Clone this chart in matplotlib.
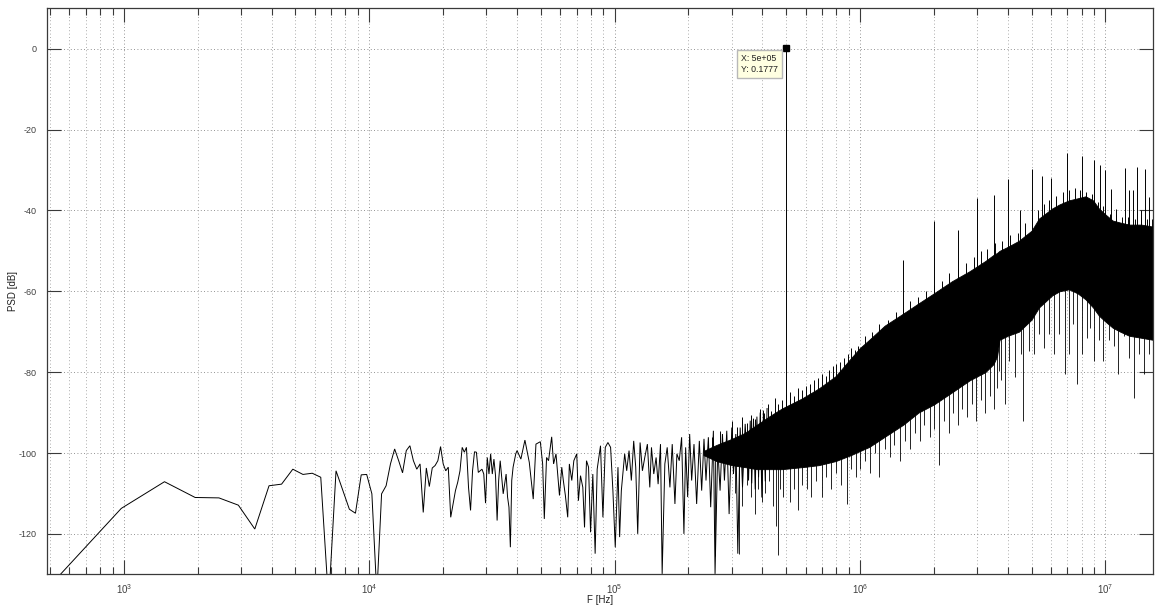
import numpy as np
import matplotlib
matplotlib.use("Agg")
import matplotlib.pyplot as plt
from matplotlib.ticker import LogLocator, FixedLocator, NullFormatter, FuncFormatter

# ---------------- data ----------------
df = 488.28125          # bin spacing [Hz]
f_nyq = 15.625e6        # upper frequency limit [Hz]

# low-frequency bins, k = 1 .. 82 (f = k * df)
psd_low = [
    -133.5, -113.7, -107.1, -111.0, -111.1, -112.9, -118.8, -108.1, -107.7, -104.0,
    -105.3, -105.0, -106.0, -137.0, -104.4, -109.3, -113.9, -114.9, -105.4, -105.3,
    -110.1, -135.0, -110.1, -108.1, -102.7, -99.0, -101.9, -104.9, -99.4, -98.2,
    -101.9, -104.0, -102.7, -114.7, -103.7, -108.3, -103.7, -103.1, -101.9, -98.4,
    -102.7, -104.4, -103.5, -115.9, -112.6, -109.3, -107.2, -104.4, -98.6, -99.8,
    -98.6, -108.5, -114.2, -104.4, -99.7, -99.8, -104.8, -104.4, -104.0, -105.2,
    -112.4, -101.1, -105.2, -100.2, -105.2, -101.5, -105.6, -116.7, -106.8, -101.9,
    -106.0, -110.1, -107.7, -105.2, -110.9, -113.4, -123.3, -106.8, -103.5, -101.9,
    -100.2, -99.4,
]

# mid band trace [kHz, dB]
f_mid_khz = [
    41.5, 43.1, 44.9, 46.6, 47.8, 49.8, 50.9, 51.7, 52.8, 53.8,
    55.4, 56.4, 57.7, 59.6, 60.9, 61.8, 63.0, 64.4, 65.4, 66.9,
    68.2, 70.1, 71.2, 72.6, 74.2, 75.4, 76.8, 78.3, 79.8, 81.5,
    83.3, 84.9, 87.6, 89.6, 91.6, 93.9, 96.3, 98.4, 100.6, 103.2,
    104.8, 106.5, 109.9, 112.0, 114.5, 117.0, 119.6, 121.9, 124.2, 127.0,
    129.8, 132.7, 136.0, 139.1, 141.3, 144.4, 147.6, 150.4, 153.8, 156.2,
    160.2, 163.8, 168.0, 171.7, 176.1, 179.4, 183.4, 187.5, 191.6, 194.7,
    198.4, 202.2, 206.0, 210.6, 215.9, 221.4, 226.3, 231.3, 235.7, 241.0,
    246.3, 252.6, 256.6, 263.2, 269.0, 275.0, 280.2, 286.4, 292.8, 300.2,
    305.0, 311.8, 317.7, 324.8, 332.0, 340.4, 351.3, 356.9, 362.0, 368.0,
    374.0, 380.0, 386.0, 392.0, 398.0, 404.0, 411.0, 418.0,
]
psd_mid = [
    -101.5, -96.8, -102.3, -111.4, -97.8, -97.2, -102.7, -116.3, -101.1, -101.9,
    -96.0, -102.7, -100.2, -110.5, -103.5, -106.8, -110.5, -115.9, -102.7, -106.8,
    -101.9, -100.2, -111.8, -105.6, -108.5, -118.4, -101.9, -103.5, -119.6, -105.2,
    -124.9, -104.0, -98.2, -115.9, -98.6, -97.4, -98.6, -109.3, -123.3, -103.5,
    -120.8, -109.3, -100.2, -104.4, -99.4, -106.8, -97.0, -103.5, -120.0, -97.4,
    -104.4, -101.1, -97.8, -108.5, -98.6, -105.2, -101.1, -107.7, -97.8, -129.9,
    -102.7, -98.6, -108.5, -97.8, -112.6, -100.2, -101.9, -96.1, -120.0, -98.6,
    -110.9, -95.3, -106.8, -97.8, -112.6, -97.0, -109.3, -96.5, -106.8, -96.1,
    -113.4, -94.5, -129.9, -98.6, -109.3, -95.3, -106.8, -94.5, -115.1, -93.7,
    -105.2, -95.3, -124.9, -93.7, -108.5, -92.8, -106.8, -92.0, -107.5, -91.5,
    -109.0, -91.0, -106.0, -90.0, -111.0, -89.5, -107.0, -89.0,
]

# dense high-frequency band: solid region between lower and upper edge
core_f = [
    230e3, 260e3, 300e3, 340e3, 380e3, 425e3, 480e3, 580e3, 680e3, 795e3,
    920e3, 1.0e6, 1.09e6, 1.26e6, 1.5e6, 1.73e6, 2.0e6, 2.37e6, 2.8e6, 3.24e6,
    3.5e6, 3.62e6, 3.7e6, 4.0e6, 4.44e6, 5.0e6, 5.36e6, 6.07e6, 6.5e6, 7.1e6,
    7.7e6, 8.3e6, 8.9e6, 9.4e6, 10.0e6, 10.7e6, 11.5e6, 12.5e6, 14.0e6, 15.625e6,
]
core_hi = [
    -99.5, -98.0, -96.5, -95.0, -93.0, -91.0, -89.0, -86.5, -84.0, -81.0,
    -76.5, -74.0, -72.0, -68.5, -65.5, -63.0, -60.5, -57.5, -55.0, -52.5,
    -51.0, -50.5, -50.0, -49.0, -47.5, -45.0, -42.0, -39.5, -38.5, -37.5,
    -37.0, -36.5, -37.5, -39.5, -41.0, -42.5, -43.0, -43.5, -43.5, -44.0,
]
core_lo = [
    -100.5, -102.0, -103.0, -103.5, -104.0, -104.0, -104.0, -103.5, -103.0, -102.0,
    -100.5, -99.5, -98.5, -96.0, -93.0, -90.0, -88.0, -85.0, -82.0, -80.0,
    -78.0, -76.0, -72.0, -71.0, -70.0, -67.0, -64.0, -61.0, -60.0, -59.5,
    -60.5, -62.0, -64.0, -66.0, -67.5, -69.0, -70.0, -71.0, -71.5, -72.0,
]

# short peaks along the top of the band [MHz, dB]
crest_mhz = [
    0.25, 0.27, 0.285, 0.30, 0.315, 0.33, 0.345, 0.36, 0.375, 0.39,
    0.405, 0.42, 0.435, 0.45, 0.465, 0.48, 0.50, 0.52, 0.54, 0.56,
    0.58, 0.60, 0.625, 0.65, 0.675, 0.70, 0.725, 0.75, 0.775, 0.80,
    0.83, 0.86, 0.89, 0.92, 0.95, 0.98, 1.05, 1.12, 1.20,
    1.30, 1.40, 1.50, 1.60, 1.72, 1.85, 2.00, 2.15, 2.30, 2.50,
    2.70, 2.90, 3.10, 3.30, 3.55, 3.80, 4.10, 4.40, 4.70, 5.00,
    5.30, 5.60, 5.90, 6.30, 6.70, 7.10, 7.50, 7.90, 8.30, 8.80,
    9.30, 9.80, 10.4, 11.0, 11.7, 12.4, 13.2, 14.0, 14.8, 15.5,
]
crest_db = [
    -96.0, -94.5, -95.5, -92.0, -93.5, -91.0, -92.5, -90.5, -91.5, -89.0,
    -90.0, -88.0, -89.5, -86.5, -88.0, -87.0, -85.5, -85.0, -86.0, -84.0,
    -84.5, -83.5, -83.0, -82.0, -81.5, -80.5, -81.0, -79.5, -78.5, -78.0,
    -77.5, -76.5, -75.5, -74.0, -74.5, -73.5, -71.0, -70.0, -68.0,
    -67.0, -65.0, -64.5, -62.5, -61.5, -60.0, -58.5, -57.5, -55.5, -54.5,
    -53.0, -51.5, -50.0, -49.5, -48.0, -47.5, -46.0, -45.5, -43.0, -41.5,
    -40.0, -38.5, -37.5, -36.5, -35.5, -35.0, -34.5, -35.0, -35.5, -36.0,
    -38.0, -39.0, -41.0, -41.0, -41.5, -41.5, -42.0, -41.5, -42.0, -42.0,
]

# isolated tones above the band
tone_f = [
    500e3, 1.5e6, 2.0e6, 2.5e6, 3.0e6, 3.5e6, 4.0e6, 4.5e6, 5.0e6, 5.5e6,
    6.0e6, 7.0e6, 8.0e6, 9.0e6, 9.5e6, 10.0e6, 10.5e6, 11.0e6, 12.0e6, 12.5e6,
    13.0e6, 13.5e6, 14.0e6, 14.5e6, 15.0e6,
]
tone_db = [
    0.1777, -52.2, -42.5, -44.8, -36.9, -36.2, -32.3, -40.0, -29.7, -31.6,
    -32.0, -25.8, -26.6, -27.6, -28.8, -29.9, -34.6, -39.6, -29.5, -34.9,
    -35.0, -29.3, -40.0, -29.7, -36.7,
]

# notches hanging below the band [MHz, dB]
notch_mhz = [
    0.256, 0.31, 0.322, 0.33, 0.345, 0.36, 0.372, 0.385, 0.40, 0.41,
    0.425, 0.44, 0.455, 0.463, 0.47, 0.485, 0.52, 0.54, 0.56, 0.58,
    0.61, 0.63, 0.66, 0.70, 0.73, 0.76, 0.80, 0.84, 0.887, 0.92,
    0.96, 1.00, 1.05, 1.10, 1.15, 1.20, 1.26, 1.32, 1.38, 1.45,
    1.52, 1.60, 1.67, 1.75, 1.83, 1.92, 2.00, 2.10, 2.20, 2.30,
    2.40, 2.50, 2.60, 2.72, 2.85, 2.98, 3.10, 3.24, 3.38, 3.52,
    3.60, 3.67, 3.75, 3.89, 4.05, 4.28, 4.51, 4.63, 4.87, 5.10,
    5.35, 5.61, 5.89, 6.17, 6.46, 6.82, 7.10, 7.37, 7.68, 8.03,
    8.42, 8.67, 8.99, 9.40, 9.80, 10.3, 10.8, 11.3, 11.9, 12.5,
    13.1, 13.7, 14.4, 15.1,
]
notch_db = [
    -125.5, -110.0, -125.0, -113.0, -108.0, -111.0, -115.0, -109.0, -112.0, -110.0,
    -107.0, -113.0, -118.0, -125.3, -109.0, -111.0, -112.0, -109.0, -114.0, -108.0,
    -109.0, -111.0, -107.0, -111.0, -106.0, -109.0, -105.0, -108.0, -112.6, -104.0,
    -106.0, -104.0, -102.0, -105.0, -100.0, -106.0, -99.0, -101.0, -98.0, -102.0,
    -97.0, -99.0, -95.0, -97.0, -93.0, -96.0, -94.0, -103.0, -92.0, -95.0,
    -90.0, -93.0, -89.0, -91.0, -88.0, -92.0, -87.0, -90.0, -86.0, -89.0,
    -84.0, -79.7, -82.0, -88.0, -77.2, -81.3, -75.5, -92.0, -74.7, -75.5,
    -70.6, -74.0, -70.6, -75.5, -70.6, -80.5, -75.5, -68.0, -83.0, -75.5,
    -71.5, -69.0, -77.2, -72.0, -77.2, -72.0, -73.5, -80.5, -71.0, -76.5,
    -86.3, -75.5, -80.5, -75.5,
]

# data cursor
tip_f = 5e5
tip_db = 0.1777

# ---------------- figure ----------------
plt.rcParams["font.family"] = ["Liberation Sans", "DejaVu Sans"]
plt.rcParams["axes.unicode_minus"] = False
plt.rcParams["mathtext.fontset"] = "custom"
plt.rcParams["mathtext.rm"] = "Liberation Sans"

W, H = 1157, 608
fig = plt.figure(figsize=(W / 100, H / 100), dpi=100, facecolor="white")
ax = fig.add_axes([47.4 / W, 1 - 574.3 / H, (1153 - 47.4) / W, (574.3 - 8.3) / H])

axis_col = "#3a3a3a"
line_kw = dict(color="black", lw=0.7, solid_joinstyle="miter")

f_low = np.arange(1, len(psd_low) + 1) * df
f_mid = np.array(f_mid_khz) * 1e3
ax.plot(np.concatenate([f_low, f_mid]), np.concatenate([psd_low, psd_mid]), **line_kw)

ax.fill_between(core_f, core_lo, core_hi, color="black", lw=0.6, edgecolor="black")

log_core = np.log10(core_f)


def from_top(f):
    return np.interp(np.log10(f), log_core, core_hi) - 2


def from_bottom(f):
    return np.interp(np.log10(f), log_core, core_lo) + 2


crest_f = np.array(crest_mhz) * 1e6
ax.vlines(crest_f, from_top(crest_f), crest_db, color="black", lw=0.7)
ax.vlines(tone_f, from_top(np.array(tone_f)), tone_db, color="black", lw=0.7)
notch_f = np.array(notch_mhz) * 1e6
ax.vlines(notch_f, notch_db, from_bottom(notch_f), color="black", lw=0.6)

# data cursor marker and tip box
ax.plot([tip_f], [tip_db], marker="s", ms=4.5, color="black", mec="black", zorder=5)
ax.annotate("X: 5e+05\nY: 0.1777", xy=(tip_f, tip_db), xytext=(-32.5, -4.5),
            textcoords="offset points", ha="left", va="top", fontsize=6.3,
            color="#202020", linespacing=1.2,
            bbox=dict(boxstyle="square,pad=0.45", fc="#ffffe1", ec="#b8b8b8", lw=1.0),
            zorder=6)

# ---------------- axes styling ----------------
ax.set_xscale("log")
ax.set_xlim(df, f_nyq)
ax.set_ylim(-130, 10)

ax.xaxis.set_major_locator(LogLocator(base=10, numticks=20))
ax.xaxis.set_minor_locator(LogLocator(base=10, subs=np.arange(2, 10), numticks=100))
ax.xaxis.set_minor_formatter(NullFormatter())
ax.xaxis.set_major_formatter(FuncFormatter(lambda v, p: r"$10^{%d}$" % round(np.log10(v))))
ax.yaxis.set_major_locator(FixedLocator(np.arange(-120, 1, 20)))
ax.yaxis.set_major_formatter(FuncFormatter(lambda v, p: "%d" % v))

ax.tick_params(which="both", direction="in", top=True, right=True,
               colors=axis_col, labelcolor="#404040", labelsize=6.5, width=0.8)
ax.tick_params(which="major", length=10, pad=8)
ax.tick_params(axis="x", which="major", labelsize=7, pad=6)
ax.tick_params(which="minor", length=5)
for s in ax.spines.values():
    s.set_color(axis_col)
    s.set_linewidth(0.9)

ax.grid(True, which="major", axis="both", linestyle=(0, (1, 3)), color="#707070", lw=0.6)
ax.grid(True, which="minor", axis="x", linestyle=(0, (1, 3)), color="#909090", lw=0.6)
ax.set_axisbelow(True)

ax.set_xlabel("F [Hz]", fontsize=7, color="#202020", labelpad=-1)
ax.set_ylabel("PSD [dB]", fontsize=7, color="#202020", labelpad=0.5)

fig.savefig("out.png", dpi=100, facecolor="white")
